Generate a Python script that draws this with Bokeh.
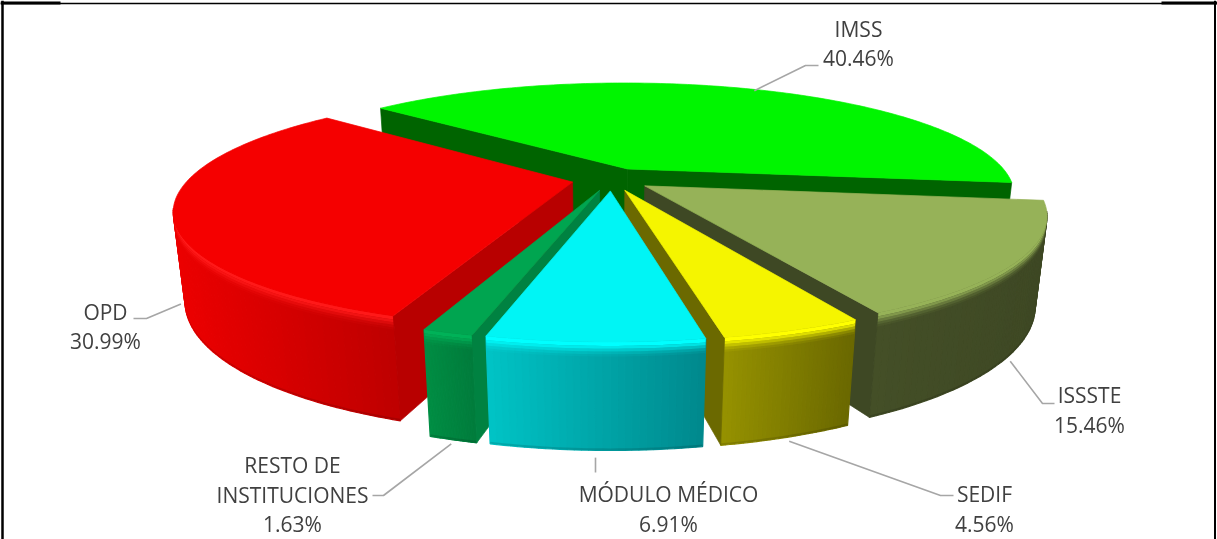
import math
from bokeh.plotting import figure
from bokeh.models import Range1d
from bokeh.core.properties import value
from bokeh.embed import file_html
from bokeh.resources import INLINE

# ---- data ----
labels = ["IMSS", "ISSSTE", "SEDIF", "MÓDULO MÉDICO", "RESTO DE INSTITUCIONES", "OPD"]
shares = [40.46, 15.46, 4.56, 6.91, 1.63, 30.99]
share_text = ["40.46%", "15.46%", "4.56%", "6.91%", "1.63%", "30.99%"]

# ---- style: top face, cut face, wall left, wall right, highlight ----
top_col = [(0, 245, 0), (150, 178, 88), (245, 245, 0), (0, 245, 245), (0, 165, 80), (245, 0, 0)]
cut_col = [(0, 100, 0), (62, 72, 36), (107, 105, 0), (0, 110, 110), (0, 130, 65), (184, 0, 0)]
wall_l = [(0, 105, 0), (68, 79, 39), (150, 146, 0), (0, 196, 198), (0, 142, 68), (236, 0, 0)]
wall_r = [(0, 95, 0), (62, 72, 36), (106, 104, 0), (0, 136, 140), (0, 124, 60), (190, 0, 0)]
glow = [(0, 255, 0), (150, 178, 88), (255, 255, 0), (0, 255, 255), (0, 178, 88), (255, 25, 25)]
paint_order = [0, 5, 1, 4, 2, 3]

# ---- projection of the pie ----
CX, CY, R, TILT, KP, KQ, H, EXPL = 611.0, 178.7, 384.0, 0.2865, 0.23, 0.026, 88.0, 0.104
START = -48.5


def project(u, v, z=0.0):
    d = 1 - KP * v + KQ * z
    return CX + R * u / d, CY + (R * TILT * v + H * z) / d


def mix(a, b, f):
    return tuple(a[i] + (b[i] - a[i]) * f for i in range(3))


def hexc(c):
    return "#%02x%02x%02x" % tuple(int(round(max(0, min(255, x)))) for x in c)


total = sum(shares)
spans = []
a = START
for s in shares:
    b = a + s / total * 360
    spans.append((a, b))
    a = b


def rim(i, deg, scale=1.0):
    a0, b0 = spans[i]
    m = math.radians((a0 + b0) / 2)
    t = math.radians(deg)
    return EXPL * math.sin(m) + scale * math.sin(t), -EXPL * math.cos(m) - scale * math.cos(t)


xs, ys, cols, widths, falpha, lalpha = [], [], [], [], [], []


def add(poly, col, w=0.7, fa=1.0, la=1.0):
    xs.append([q[0] for q in poly])
    ys.append([q[1] for q in poly])
    cols.append(hexc(col))
    widths.append(w)
    falpha.append(fa)
    lalpha.append(la)


# (z from, z to, alpha) of the soft edge under the rim
bevel = [(0.0, 0.035, 1.0), (0.035, 0.06, 0.75), (0.06, 0.085, 0.45), (0.085, 0.11, 0.2), (0.11, 0.13, 0.07)]

for i in paint_order:
    a0, b0 = spans[i]
    steps = max(30, int((b0 - a0) / 1.0))
    angs = [a0 + (b0 - a0) * j / steps for j in range(steps + 1)]
    # wall, back to front, only what faces the viewer
    strips = []
    for j in range(steps):
        mid = math.radians((angs[j] + angs[j + 1]) / 2)
        n = (math.sin(mid), -math.cos(mid))
        pos = rim(i, (angs[j] + angs[j + 1]) / 2)
        if n[0] * (0 - pos[0]) + n[1] * (1 / KP - pos[1]) > -0.15:
            strips.append((pos[1], j))
    strips.sort()
    if strips:
        used = sorted(j for _, j in strips)
        run = [angs[j] for j in used] + [angs[used[-1] + 1]]
        rimx = [project(*rim(i, d))[0] for d in run]
        lo, hi = min(rimx), max(rimx)
        for _, j in strips:
            p0, p1 = rim(i, angs[j]), rim(i, angs[j + 1])
            mx = (project(*p0)[0] + project(*p1)[0]) / 2
            wc = mix(wall_l[i], wall_r[i], (mx - lo) / (hi - lo))
            add([project(*p0, 0.0), project(*p1, 0.0), project(*p1, 1.0), project(*p0, 1.0)], wc, 1.2)
        pts = [rim(i, d) for d in run]
        for z0, z1, al in bevel:
            add([project(*q, z0) for q in pts] + [project(*q, z1) for q in reversed(pts)], glow[i], 0.0, al, 0.0)
        add([project(*q, 0.98) for q in pts] + [project(*q, 1.0) for q in reversed(pts)], (0, 0, 0), 0.0, 0.12, 0.0)
    # cut faces
    ax, ay = rim(i, 0, 0.0)
    cam = (0 - ax, 1 / KP - ay)
    for d, sign in ((a0, -1), (b0, 1)):
        t = math.radians(d)
        n = (sign * math.cos(t), sign * math.sin(t))
        if n[0] * cam[0] + n[1] * cam[1] > 0:
            c = rim(i, d)
            add([project(ax, ay, 0), project(*c, 0), project(*c, 1), project(ax, ay, 1)], cut_col[i])
    # top
    poly = [project(ax, ay)] + [project(*rim(i, d)) for d in angs]
    add(poly, top_col[i])

p = figure(width=1217, height=539, x_range=Range1d(0, 1217), y_range=Range1d(539, 0),
           output_backend="svg", toolbar_location=None, min_border=0,
           styles={"position": "fixed", "left": "0px", "top": "0px"})
p.axis.visible = False
p.grid.visible = False
p.outline_line_color = None
p.background_fill_color = "white"

p.patches(xs, ys, fill_color=cols, line_color=cols, line_width=widths, fill_alpha=falpha, line_alpha=lalpha)

# ---- leaders: (z of the anchor on the rim, elbow, end) ----
leader_layout = [
    (0, (805, 65), (818, 65)),
    (1, (1042, 403), (1054, 403)),
    (1, (940, 495), (953, 495)),
    (1, (595, 472), (595, 472)),
    (1, (383, 495), (372, 495)),
    (1, (146, 318), (133, 318)),
]
for i, (z, elbow, end) in enumerate(leader_layout):
    a0, b0 = spans[i]
    sx, sy = project(*rim(i, (a0 + b0) / 2, 1.01), z)
    if i == 3:
        sx, sy = elbow[0], sy + 3
    p.line([sx, elbow[0], end[0]], [sy + 2, elbow[1], end[1]], line_color="#a6a6a6", line_width=1.6)

# ---- labels ----
label_layout = [
    (858, [28, 57]),
    (1089, [394, 424]),
    (984, [493, 523]),
    (668, [493, 523]),
    (292, [464, 494, 523]),
    (105, [311, 340]),
]
for i, (x, rows) in enumerate(label_layout):
    name = labels[i]
    lines = [name, share_text[i]] if len(rows) == 2 else ["RESTO DE", "INSTITUCIONES", share_text[i]]
    for txt, y in zip(lines, rows):
        p.text([x], [y], text=[txt], text_align="center", text_baseline="middle",
               text_font=value("Open Sans"), text_font_size="21px", text_color="#404040")

# ---- frame ----
for x0, y0, x1, y1, w in [
    (0, 3, 1217, 3, 1.5), (0, 2.5, 60, 2.5, 3), (1161, 2.5, 1217, 2.5, 3),
    (2, 0, 2, 539, 2.5), (1214.5, 0, 1214.5, 539, 2),
]:
    p.line([x0, x1], [y0, y1], line_color="black", line_width=w)

open("out.html", "w").write(file_html(p, INLINE))
